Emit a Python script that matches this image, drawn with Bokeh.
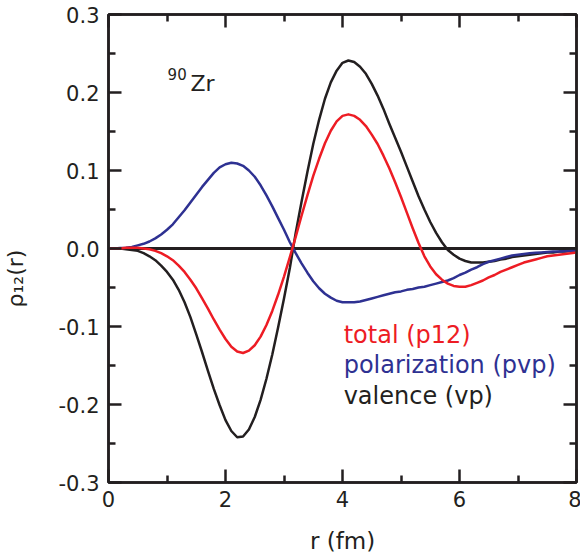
from bokeh.plotting import figure
from bokeh.models import (Range1d, LinearAxis, FixedTicker, CustomLabelingPolicy,
                          PrintfTickFormatter, Span, Label)
from bokeh.embed import file_html
from bokeh.resources import INLINE
import math

# ---- data ----
r = [0.0, 0.1, 0.2, 0.3, 0.4, 0.5, 0.6, 0.7, 0.8, 0.9,
     1.0, 1.1, 1.2, 1.3, 1.4, 1.5, 1.6, 1.7, 1.8, 1.9,
     2.0, 2.1, 2.2, 2.3, 2.4, 2.5, 2.6, 2.7, 2.8, 2.9,
     3.0, 3.1, 3.2, 3.3, 3.4, 3.5, 3.6, 3.7, 3.8, 3.9,
     4.0, 4.1, 4.2, 4.3, 4.4, 4.5, 4.6, 4.7, 4.8, 4.9,
     5.0, 5.1, 5.2, 5.3, 5.4, 5.5, 5.6, 5.7, 5.8, 5.9,
     6.0, 6.1, 6.2, 6.3, 6.4, 6.5, 6.6, 6.7, 6.8, 6.9,
     7.0, 7.1, 7.2, 7.3, 7.4, 7.5, 7.6, 7.7, 7.8, 7.9, 8.0]

valence = [0.000, 0.000, 0.000, -0.001, -0.002, -0.003, -0.006, -0.010, -0.015, -0.022,
           -0.030, -0.040, -0.053, -0.069, -0.088, -0.110, -0.133, -0.157, -0.180, -0.201,
           -0.220, -0.234, -0.242, -0.241, -0.232, -0.216, -0.194, -0.167, -0.136, -0.101,
           -0.064, -0.025, 0.020, 0.060, 0.098, 0.134, 0.165, 0.192, 0.213, 0.228,
           0.238, 0.241, 0.239, 0.233, 0.224, 0.211, 0.196, 0.179, 0.160, 0.142,
           0.124, 0.105, 0.086, 0.067, 0.050, 0.034, 0.020, 0.008, -0.002, -0.008,
           -0.013, -0.016, -0.018, -0.018, -0.018, -0.017, -0.016, -0.014, -0.013, -0.011,
           -0.010, -0.009, -0.008, -0.007, -0.006, -0.005, -0.005, -0.004, -0.004, -0.003, -0.003]

total = [0.000, 0.000, 0.000, 0.001, 0.001, 0.001, 0.000, -0.001, -0.003, -0.006,
         -0.010, -0.015, -0.022, -0.030, -0.040, -0.051, -0.064, -0.077, -0.091, -0.104,
         -0.116, -0.126, -0.132, -0.134, -0.131, -0.124, -0.113, -0.098, -0.080, -0.059,
         -0.036, -0.011, 0.015, 0.042, 0.068, 0.093, 0.115, 0.135, 0.151, 0.163,
         0.170, 0.172, 0.170, 0.165, 0.157, 0.146, 0.134, 0.119, 0.103, 0.085,
         0.066, 0.046, 0.026, 0.007, -0.010, -0.023, -0.033, -0.040, -0.045, -0.048,
         -0.049, -0.049, -0.047, -0.044, -0.041, -0.037, -0.034, -0.030, -0.027, -0.024,
         -0.021, -0.018, -0.016, -0.014, -0.012, -0.010, -0.009, -0.008, -0.007, -0.006, -0.005]

polarization = [0.000, 0.000, 0.0005, 0.001, 0.002, 0.004, 0.006, 0.009, 0.013, 0.018,
                0.024, 0.031, 0.040, 0.049, 0.059, 0.069, 0.079, 0.088, 0.097, 0.104,
                0.108, 0.110, 0.109, 0.106, 0.100, 0.092, 0.081, 0.068, 0.054, 0.039,
                0.024, 0.008, -0.006, -0.019, -0.031, -0.042, -0.051, -0.058, -0.063, -0.067,
                -0.069, -0.069, -0.069, -0.068, -0.066, -0.064, -0.062, -0.060, -0.058, -0.056,
                -0.055, -0.053, -0.052, -0.050, -0.049, -0.047, -0.045, -0.043, -0.041, -0.038,
                -0.034, -0.031, -0.027, -0.024, -0.020, -0.017, -0.015, -0.013, -0.011, -0.009,
                -0.008, -0.007, -0.006, -0.0055, -0.005, -0.0045, -0.004, -0.004, -0.0035, -0.003, -0.003]

x_major_ticks = [0, 2, 4, 6, 8]
x_minor_ticks = [1, 3, 5, 7]
y_major_ticks = [-0.3, -0.2, -0.1, 0.0, 0.1, 0.2, 0.3]
y_minor_ticks = [-0.25, -0.15, -0.05, 0.05, 0.15, 0.25]

series_labels = ["total (p12)", "polarization (pvp)", "valence (vp)"]
x_label = "r (fm)"
y_label = "\u03c1\u2081\u2082(r)"
nucleus_mass = "90"
nucleus_symbol = "Zr"

# ---- style ----
BLACK = "#231f20"
RED = "#ed1c24"
BLUE = "#2e3192"
FONT = "DejaVu Sans"

p = figure(frame_width=468, frame_height=468,
           min_border_left=108, min_border_right=4,
           min_border_top=14, min_border_bottom=75,
           x_range=Range1d(0, 8), y_range=Range1d(-0.3, 0.3),
           output_backend="svg", toolbar_location=None,
           background_fill_color="white", border_fill_color="white")
p.grid.visible = False
p.outline_line_color = BLACK
p.outline_line_width = 2.5


def style_axis(ax, major, minor, fmt, show_labels=True):
    ax.ticker = FixedTicker(ticks=major, minor_ticks=minor)
    ax.formatter = PrintfTickFormatter(format=fmt)
    ax.axis_line_color = BLACK
    ax.axis_line_width = 2.5
    ax.major_tick_line_color = BLACK
    ax.major_tick_line_width = 2.5
    ax.minor_tick_line_color = BLACK
    ax.minor_tick_line_width = 2.5
    ax.major_tick_in = 13
    ax.major_tick_out = 0
    ax.minor_tick_in = 7
    ax.minor_tick_out = 0
    ax.axis_label = None
    ax.major_label_text_font = FONT
    ax.major_label_text_font_size = "21px"
    ax.major_label_text_color = BLACK
    if not show_labels:
        ax.major_label_policy = CustomLabelingPolicy(code="return []")
        ax.major_label_text_font_size = "1px"
        ax.major_label_standoff = 0


style_axis(p.xaxis[0], x_major_ticks, x_minor_ticks, "%d")
p.xaxis[0].major_label_standoff = 8
style_axis(p.yaxis[0], y_major_ticks, y_minor_ticks, "%.1f")
p.yaxis[0].major_label_standoff = 9

top_axis = LinearAxis()
style_axis(top_axis, x_major_ticks, x_minor_ticks, "%d", show_labels=False)
p.add_layout(top_axis, "above")
right_axis = LinearAxis()
style_axis(right_axis, y_major_ticks, y_minor_ticks, "%.1f", show_labels=False)
p.add_layout(right_axis, "right")

p.add_layout(Span(location=0, dimension="width", line_color=BLACK,
                  line_width=3, level="underlay"))

p.line(r, valence, line_color=BLACK, line_width=2.5, line_join="round")
p.line(r, polarization, line_color=BLUE, line_width=2.5, line_join="round")
p.line(r, total, line_color=RED, line_width=2.5, line_join="round")

# in-plot texts
p.add_layout(Label(x=1.01, y=0.224, text=nucleus_mass, text_font=FONT,
                   text_font_size="15px", text_color=BLACK,
                   text_baseline="alphabetic"))
p.add_layout(Label(x=1.40, y=0.211, text=nucleus_symbol, text_font=FONT,
                   text_font_size="22px", text_color=BLACK,
                   text_baseline="alphabetic"))

for txt, col, yy in zip(series_labels, [RED, BLUE, BLACK], [-0.1105, -0.1490, -0.1887]):
    p.add_layout(Label(x=4.02, y=yy, text=txt, text_font=FONT,
                       text_font_size="24px", text_color=col,
                       text_baseline="alphabetic"))

# axis titles, placed in the side panels so they are not clipped
p.add_layout(Label(x=4.0, y=-0.3744, text=x_label, text_font=FONT,
                   text_font_size="23px", text_color=BLACK,
                   text_align="center", text_baseline="middle"), "below")
p.add_layout(Label(x=-1.81, y=-0.0756, text=y_label, text_font=FONT,
                   text_font_size="22px", text_color=BLACK, angle=math.pi / 2,
                   text_align="left", text_baseline="top"), "left")

open("out.html", "w").write(file_html(p, INLINE))
